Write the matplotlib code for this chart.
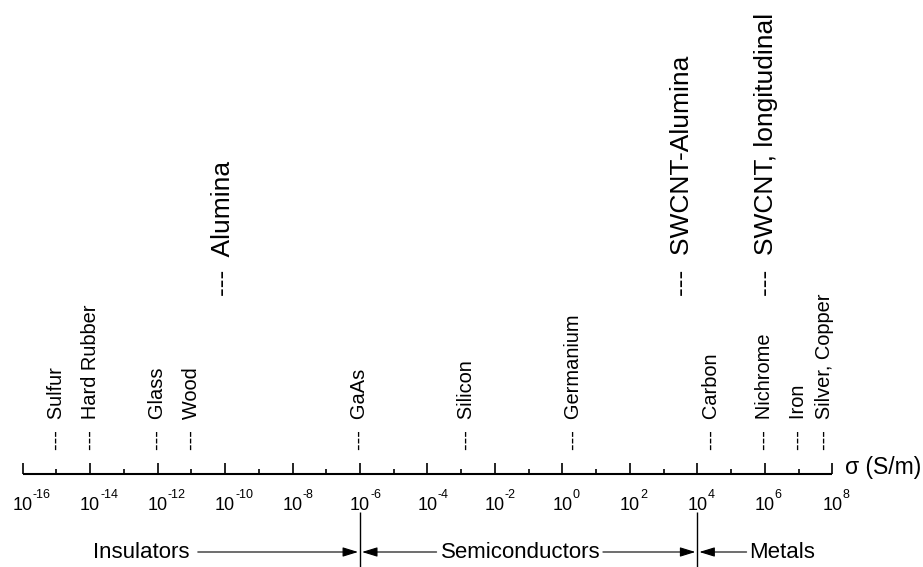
import matplotlib
matplotlib.use('Agg')
import matplotlib.pyplot as plt
from matplotlib.transforms import offset_copy

plt.rcParams['font.family'] = ['Liberation Sans', 'DejaVu Sans']

# ---- data ----
materials = ['Sulfur', 'Hard Rubber', 'Glass', 'Wood', 'GaAs', 'Silicon',
             'Germanium', 'Carbon', 'Nichrome', 'Iron', 'Silver, Copper']
conductivity = [1e-15, 1e-14, 1e-12, 1e-11, 1e-6, 1.45e-3,
                2.1, 2.7e4, 1e6, 1e7, 5.9e7]            # S/m
highlights = ['Alumina', 'SWCNT-Alumina', 'SWCNT, longitudinal']
highlight_conductivity = [8.5e-11, 3.5e3, 1.1e6]        # S/m
tick_exponents = list(range(-16, 9, 2))
regions = ['Insulators', 'Semiconductors', 'Metals']
region_bounds = [1e-6, 1e4]
axis_label = 'σ (S/m)'

# ---- figure ----
fig = plt.figure(figsize=(9.23, 5.67), dpi=100)
ax = fig.add_axes([0, 0, 1, 1])
ax.set_xscale('log')
ax.set_xlim(10 ** -16.673, 10 ** 10.689)
ax.set_ylim(567, 0)
ax.axis('off')

PX = 0.72  # points per pixel at 100 dpi
AXIS_Y = 474
lo, hi = 10.0 ** tick_exponents[0], 10.0 ** tick_exponents[-1]
ax.plot([lo, hi], [AXIS_Y, AXIS_Y], color='k', lw=1.5, solid_capstyle='butt')
major = [10.0 ** e for e in tick_exponents]
minor = [10.0 ** (e + 1) for e in tick_exponents[:-1]]
ax.vlines(major, AXIS_Y - 11, AXIS_Y, color='k', lw=1.2)
ax.vlines(minor, AXIS_Y - 5.5, AXIS_Y, color='k', lw=1.2)

# tick labels 10^n (hyphen minus as in reference)
sup_tr = offset_copy(ax.transData, fig=fig, x=10.0 * PX, y=0, units='points')
for e in tick_exponents:
    ax.text(10.0 ** e, 510.5, '10', ha='center', va='baseline', fontsize=13)
    ax.text(10.0 ** e, 498.5, str(e), transform=sup_tr, ha='left',
            va='baseline', fontsize=9)

# axis label
lab_tr = offset_copy(ax.transData, fig=fig, x=13 * PX, y=0, units='points')
ax.text(hi, AXIS_Y, axis_label, transform=lab_tr, ha='left', va='baseline',
        fontsize=16.5)


def draw_labels(names, values, fs, y0):
    tr = offset_copy(ax.transData, fig=fig, x=0.273 * fs, y=0, units='points')
    for n, v in zip(names, values):
        ax.text(v, y0, '---  ' + n, transform=tr, rotation=90,
                rotation_mode='anchor', ha='left', va='baseline', fontsize=fs)


draw_labels(materials, conductivity, 14.4, 450)
draw_labels(highlights, highlight_conductivity, 19, 296)

# region boundaries
ax.vlines(region_bounds, 512, 567, color='k', lw=1.0)

REG_Y = 552
TXT_Y = 558.5
ax.text(10 ** -11.05, TXT_Y, regions[0], ha='right', va='baseline', fontsize=16)
ax.text(10 ** -1.23, TXT_Y, regions[1], ha='center', va='baseline', fontsize=16)
ax.text(10 ** 6.5, TXT_Y, regions[2], ha='center', va='baseline', fontsize=16)

ap = dict(arrowstyle='-|>,head_length=0.94,head_width=0.29', color='k',
          lw=0.8, shrinkA=0, shrinkB=2 * PX, mutation_scale=10)
ax.annotate('', xy=(region_bounds[0], REG_Y), xytext=(10 ** -10.81, REG_Y), arrowprops=ap)
ax.annotate('', xy=(region_bounds[0], REG_Y), xytext=(10 ** -3.73, REG_Y), arrowprops=ap)
ax.annotate('', xy=(region_bounds[1], REG_Y), xytext=(10 ** 1.2, REG_Y), arrowprops=ap)
ax.annotate('', xy=(region_bounds[1], REG_Y), xytext=(10 ** 5.46, REG_Y), arrowprops=ap)

fig.savefig('out.png', dpi=100)
